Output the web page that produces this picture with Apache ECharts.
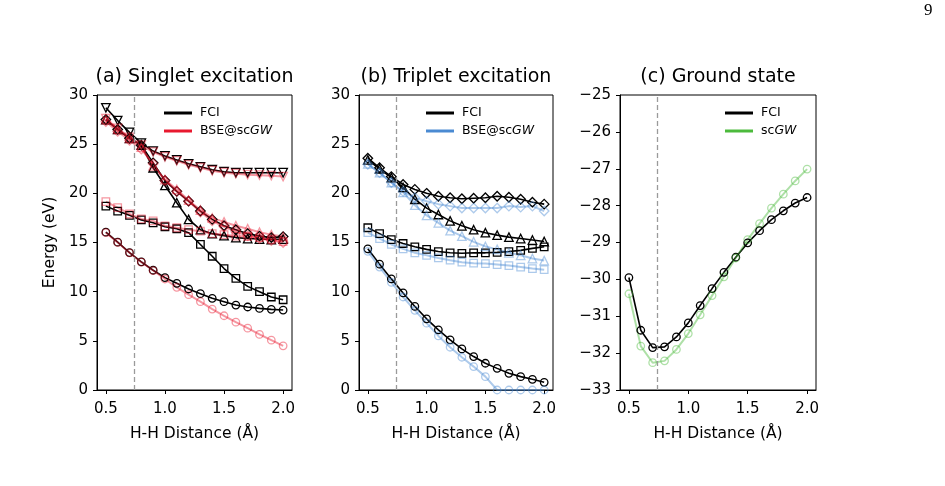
<!DOCTYPE html>
<html>
<head>
<meta charset="utf-8">
<script src="https://cdn.jsdelivr.net/npm/echarts@6/dist/echarts.min.js"></script>
<style>
html, body { margin: 0; padding: 0; background: #fff; }
#main { width: 945px; height: 486px; }
</style>
</head>
<body>
<div id="main"></div>
<script>
// H-H distances (Angstrom) and the equilibrium marker
var DIST = [0.5, 0.6, 0.7, 0.8, 0.9, 1.0, 1.1, 1.2, 1.3, 1.4, 1.5, 1.6, 1.7, 1.8, 1.9, 2.0];
var X_TICKS = [0.5, 1.0, 1.5, 2.0];
var EQ_DIST = 0.74;
var PANEL_TITLES = ['(a) Singlet excitation', '(b) Triplet excitation', '(c) Ground state'];

// (a) singlet excitations, eV
var singletFci = [
    [16.05, 15.03, 13.98, 13.03, 12.18, 11.43, 10.85, 10.27, 9.80, 9.32, 8.98, 8.64, 8.44, 8.30, 8.20, 8.13],
    [18.7, 18.2, 17.76, 17.3, 17.0, 16.6, 16.4, 16.0, 14.8, 13.6, 12.35, 11.36, 10.54, 10.0, 9.46, 9.18],
    [27.5, 26.5, 25.6, 24.9, 22.6, 20.8, 19.05, 17.35, 16.3, 15.9, 15.7, 15.5, 15.4, 15.35, 15.3, 15.35],
    [27.5, 26.5, 25.6, 24.9, 23.1, 21.3, 20.2, 19.2, 18.2, 17.35, 16.7, 16.3, 15.9, 15.65, 15.5, 15.6],
    [28.7, 27.4, 26.2, 25.1, 24.3, 23.8, 23.4, 23.0, 22.7, 22.4, 22.2, 22.1, 22.1, 22.1, 22.1, 22.1]
];
var singletBse = [
    [16.0, 15.0, 13.95, 13.0, 12.15, 11.29, 10.44, 9.69, 8.98, 8.23, 7.55, 6.90, 6.29, 5.65, 5.07, 4.49],
    [19.15, 18.55, 17.9, 17.4, 17.2, 16.7, 16.5, 16.3, 16.15, 15.9, 15.8, 15.65, 15.6, 15.5, 15.3, 15.1],
    [27.5, 26.5, 25.6, 24.7, 22.8, 21.4, 20.4, 19.3, 18.3, 17.5, 17.1, 16.7, 16.4, 16.05, 15.8, 15.6],
    [27.3, 26.3, 25.4, 24.5, 23.0, 21.3, 20.2, 19.2, 18.1, 17.2, 16.6, 16.1, 15.7, 15.4, 15.2, 15.0],
    [27.6, 26.6, 25.7, 24.9, 24.2, 23.7, 23.3, 22.9, 22.6, 22.3, 22.1, 22.0, 21.9, 21.85, 21.8, 21.7]
];

// (b) triplet excitations, eV
var tripletFci = [
    [14.36, 12.8, 11.3, 9.87, 8.5, 7.24, 6.12, 5.1, 4.18, 3.4, 2.72, 2.2, 1.7, 1.36, 1.09, 0.78],
    [16.5, 15.9, 15.3, 14.9, 14.56, 14.3, 14.08, 13.95, 13.9, 13.95, 13.95, 14.0, 14.08, 14.2, 14.4, 14.56],
    [23.4, 22.5, 21.6, 20.6, 19.4, 18.5, 17.85, 17.2, 16.7, 16.3, 16.0, 15.75, 15.55, 15.4, 15.25, 15.1],
    [23.57, 22.6, 21.7, 20.9, 20.4, 20.0, 19.7, 19.55, 19.45, 19.5, 19.55, 19.7, 19.6, 19.4, 19.1, 18.9]
];
var tripletBse = [
    [14.1, 12.5, 10.95, 9.46, 8.1, 6.8, 5.5, 4.35, 3.33, 2.38, 1.36, 0.0, 0.0, 0.0, 0.0, 0.0],
    [16.0, 15.4, 14.8, 14.35, 13.95, 13.7, 13.43, 13.2, 13.0, 12.9, 12.86, 12.76, 12.65, 12.5, 12.35, 12.24],
    [23.0, 22.1, 21.1, 20.1, 18.8, 17.75, 17.0, 16.2, 15.65, 15.07, 14.6, 14.3, 13.95, 13.7, 13.37, 13.16],
    [22.96, 22.1, 21.1, 20.2, 19.55, 19.2, 18.9, 18.7, 18.5, 18.5, 18.5, 18.5, 18.7, 18.6, 18.7, 18.2]
];

// (c) ground state energy, eV
var groundFci = [-29.95, -31.38, -31.85, -31.83, -31.56, -31.18, -30.71, -30.25, -29.81, -29.40, -29.01, -28.68, -28.38, -28.14, -27.93, -27.78];
var groundGw = [-30.39, -31.81, -32.26, -32.21, -31.90, -31.47, -30.96, -30.44, -29.93, -29.42, -28.92, -28.49, -28.07, -27.69, -27.33, -27.01];

var FONT = 'DejaVu Sans';
var RED = '#e8192f';
var BLUE = '#4a8ad2';
var GREEN = '#4cba3c';

var MARKERS = [
    { symbol: 'circle', size: 7.5, rotate: 0 },
    { symbol: 'rect', size: 7.5, rotate: 0 },
    { symbol: 'triangle', size: 8.5, rotate: 0 },
    { symbol: 'diamond', size: 9.5, rotate: 0 },
    { symbol: 'triangle', size: 8.5, rotate: 180 }
];

var GRIDS = [
    { left: 97, top: 95, width: 195, height: 295 },
    { left: 359, top: 95, width: 194, height: 295 },
    { left: 620, top: 95, width: 196, height: 295 }
];

function minus(v) {
    return v < 0 ? '\u2212' + (-v) : String(v);
}

function makeLine(name, gi, ys, mk, color, alpha, width) {
    return {
        name: name,
        type: 'line',
        xAxisIndex: gi,
        yAxisIndex: gi,
        data: DIST.map(function (x, i) { return [x, ys[i]]; }),
        symbol: mk.symbol,
        symbolSize: mk.size,
        symbolRotate: mk.rotate,
        showAllSymbol: true,
        lineStyle: { color: color, width: width, opacity: alpha },
        itemStyle: { color: 'rgba(255,255,255,0)', borderColor: color, borderWidth: 1.3, opacity: alpha },
        emphasis: { disabled: true }
    };
}

function eqLine() {
    return {
        silent: true,
        symbol: 'none',
        label: { show: false },
        lineStyle: { color: '#9a9a9a', type: [5, 3], width: 1.3 },
        data: [{ xAxis: EQ_DIST }]
    };
}

var series = [];
var panels = [
    { fci: singletFci, bse: singletBse, bseName: 'BSE@scGW', color: RED },
    { fci: tripletFci, bse: tripletBse, bseName: 'BSE@scGW', color: BLUE },
    { fci: [groundFci], bse: [groundGw], bseName: 'scGW', color: GREEN }
];
panels.forEach(function (p, gi) {
    p.fci.forEach(function (ys, k) {
        var s = makeLine('FCI', gi, ys, MARKERS[k], '#000', 1, 1.6);
        if (k === 0) s.markLine = eqLine();
        series.push(s);
    });
    p.bse.forEach(function (ys, k) {
        series.push(makeLine(p.bseName, gi, ys, MARKERS[k], p.color, 0.45, 2));
    });
});

var xAxes = GRIDS.map(function (g, gi) {
    return {
        type: 'value', gridIndex: gi, min: 0.425, max: 2.075,
        name: 'H-H Distance (\u00c5)', nameLocation: 'middle', nameGap: 36,
        nameTextStyle: { fontFamily: FONT, fontSize: 15.5, color: '#000' },
        axisLine: { show: true, onZero: false, lineStyle: { color: '#000', width: 1 } },
        axisTick: { show: true, length: 4, customValues: X_TICKS, lineStyle: { color: '#000' } },
        axisLabel: {
            customValues: X_TICKS, margin: 12, fontFamily: FONT, fontSize: 15, color: '#000',
            formatter: function (v) { return v.toFixed(1); }
        },
        splitLine: { show: false }
    };
});

var yAxes = GRIDS.map(function (g, gi) {
    var ground = gi === 2;
    return {
        type: 'value', gridIndex: gi,
        min: ground ? -33 : 0, max: ground ? -25 : 30, interval: ground ? 1 : 5,
        name: gi === 0 ? 'Energy (eV)' : '', nameLocation: 'middle', nameGap: 39,
        nameTextStyle: { fontFamily: FONT, fontSize: 15.5, color: '#000' },
        axisLine: { show: true, lineStyle: { color: '#000', width: 1 } },
        axisTick: { show: true, length: 4, lineStyle: { color: '#000' } },
        axisLabel: { margin: 9, fontFamily: FONT, fontSize: 15, color: '#000', formatter: minus },
        splitLine: { show: false }
    };
});

function legendFmt(name) {
    if (name === 'BSE@scGW') return '{n|BSE@sc}{i|GW}';
    if (name === 'scGW') return '{n|sc}{i|GW}';
    return '{n|' + name + '}';
}

function makeLegend(left, top, names, color) {
    return {
        orient: 'vertical', left: left, top: top, padding: 0,
        itemWidth: 28, itemHeight: 3, itemGap: 4, icon: 'rect',
        selectedMode: false,
        formatter: legendFmt,
        textStyle: {
            fontFamily: FONT, fontSize: 12.5, color: '#000', lineHeight: 14, padding: [0, 0, 0, 3],
            rich: {
                n: { fontFamily: FONT, fontSize: 12.5, color: '#000' },
                i: { fontFamily: FONT, fontSize: 12.5, color: '#000', fontStyle: 'italic' }
            }
        },
        data: [
            { name: 'FCI', itemStyle: { color: '#000', borderWidth: 0, opacity: 1 } },
            { name: names, itemStyle: { color: color, borderWidth: 0, opacity: 1 } }
        ]
    };
}

var titles = PANEL_TITLES.map(function (t, gi) {
    var g = GRIDS[gi];
    return {
        text: t, left: g.left + g.width / 2, top: 68, textAlign: 'center', padding: 0,
        textStyle: { fontFamily: FONT, fontSize: 19, fontWeight: 'normal', color: '#000' }
    };
});
titles.push({
    text: '9', left: 924, top: 2, padding: 0,
    textStyle: { fontFamily: 'Liberation Serif', fontSize: 17, fontWeight: 'normal', color: '#000' }
});

var myChart = echarts.init(document.getElementById('main'));
var option = {
    animation: false,
    backgroundColor: '#fff',
    title: titles,
    legend: [
        makeLegend(164, 106, 'BSE@scGW', RED),
        makeLegend(426, 106, 'BSE@scGW', BLUE),
        makeLegend(725, 106, 'scGW', GREEN)
    ],
    grid: GRIDS.map(function (g) {
        return { left: g.left, top: g.top, width: g.width, height: g.height, show: true, borderColor: '#000', borderWidth: 1, backgroundColor: 'transparent' };
    }),
    xAxis: xAxes,
    yAxis: yAxes,
    series: series
};
myChart.setOption(option, true);
</script>
</body>
</html>
